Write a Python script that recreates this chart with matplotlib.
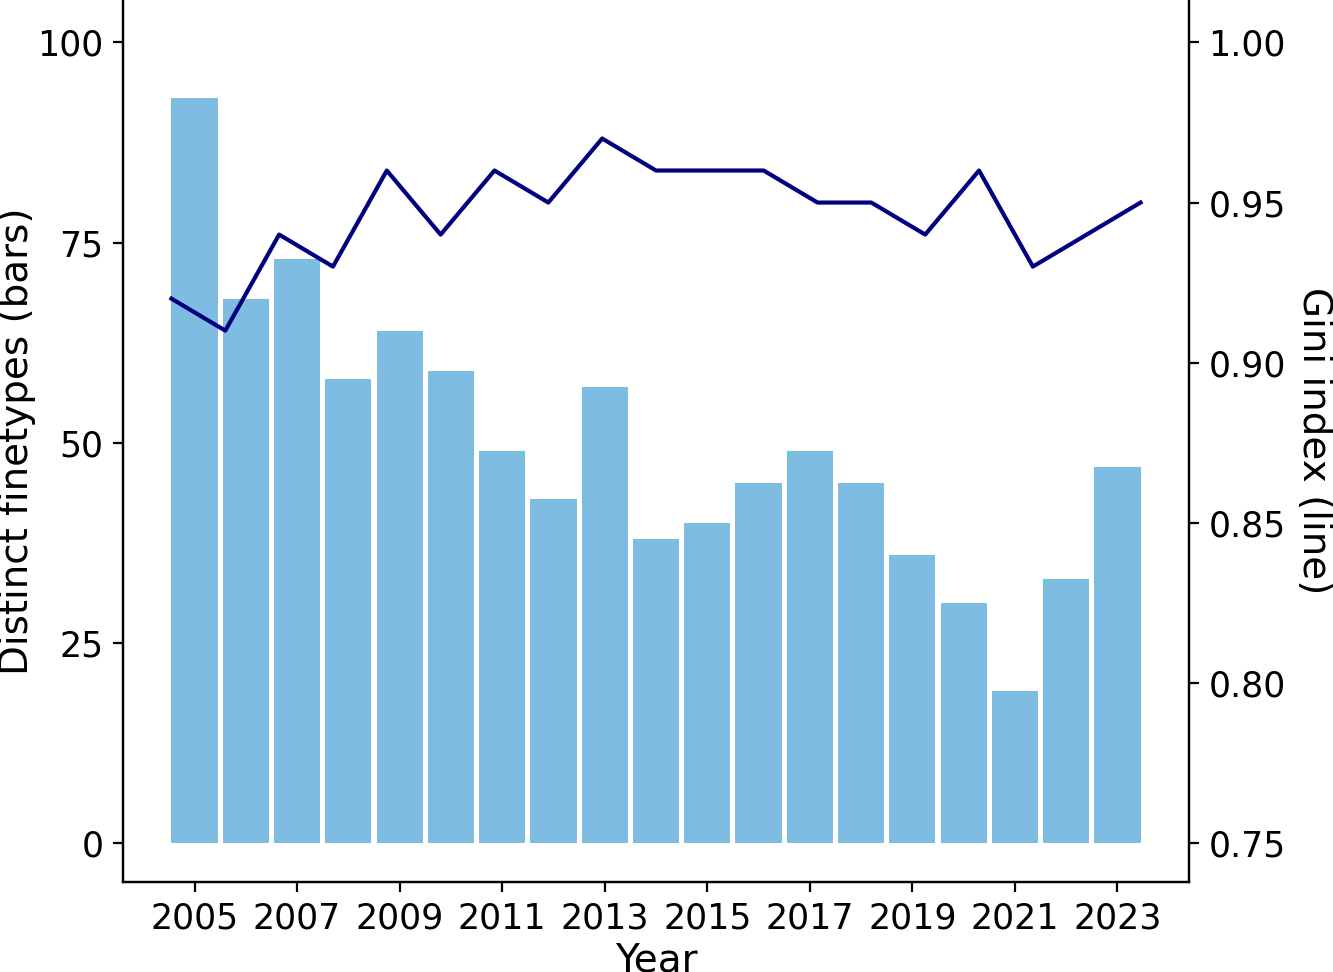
import numpy as np
import matplotlib
matplotlib.use("Agg")
import matplotlib.pyplot as plt

years = list(range(2005, 2024))
finetypes = [93, 68, 73, 58, 64, 59, 49, 43, 57, 38, 40, 45, 49, 45, 36, 30, 19, 33, 47]
gini = [0.92, 0.91, 0.94, 0.93, 0.96, 0.94, 0.96, 0.95, 0.97, 0.96, 0.96, 0.96,
        0.95, 0.95, 0.94, 0.96, 0.93, 0.94, 0.95]
xticks = list(range(2005, 2024, 2))

W, H, DPI = 1333, 972, 200
fig = plt.figure(figsize=(W / DPI, H / DPI), dpi=DPI)
ax = fig.add_axes([123 / W, (H - 882) / H, (1189 - 123) / W, 882 / H])

bar_w = 0.9
ax.bar(years, finetypes, width=bar_w, color='#7FBCE2')
ax.set_xticks(xticks)
ax.set_xticklabels([str(t) for t in xticks])
ax.set_ylim(-4.87, 105.3)
ax.set_yticks([0, 25, 50, 75, 100])
ax.set_ylabel("Distinct finetypes (bars)", fontsize=14)
ax.yaxis.set_label_coords((36 - 123) / 1066, 0.5)
ax.set_xlabel("Year", fontsize=14, labelpad=2)
ax.tick_params(labelsize=12.5)
ax.spines['top'].set_visible(False)

ax2 = ax.twinx()
line_x = np.linspace(years[0] - bar_w / 2, years[-1] + bar_w / 2, len(gini))
ax2.plot(line_x, gini, color='#000080', lw=1.5)
ax2.set_ylim(0.75 - 4.87 / 400, 0.75 + 105.3 / 400)
ax2.set_yticks([0.75, 0.80, 0.85, 0.90, 0.95, 1.00])
ax2.set_yticklabels([f"{v:.2f}" for v in [0.75, 0.80, 0.85, 0.90, 0.95, 1.00]])
ax2.set_ylabel("Gini index (line)", fontsize=14, rotation=270)
ax2.yaxis.set_label_coords((1333 - 123) / 1066, 0.5)
ax2.tick_params(labelsize=12.5)
ax2.spines['top'].set_visible(False)

fig.savefig("out.png", dpi=DPI)
